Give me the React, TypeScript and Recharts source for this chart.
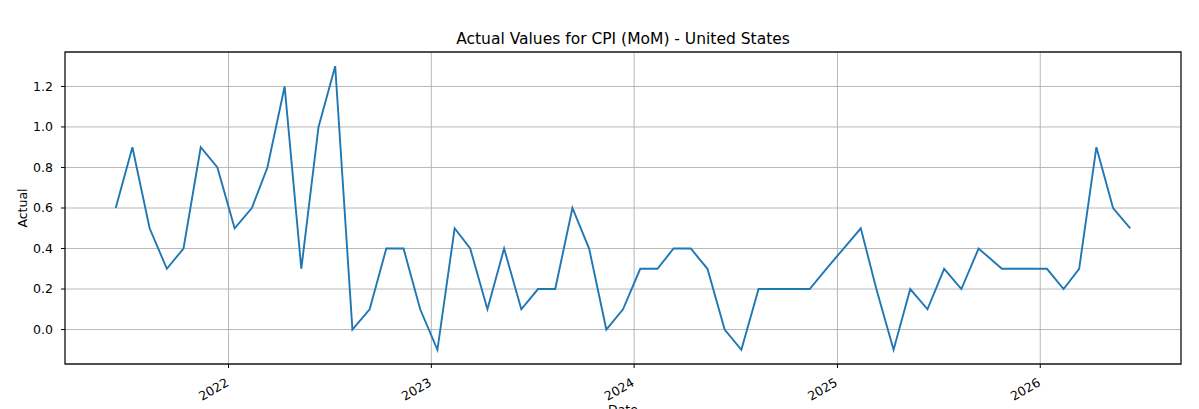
import React from 'react';
import {
  LineChart,
  Line,
  XAxis,
  YAxis,
  CartesianGrid,
  ReferenceArea
} from 'recharts';

// release dates (x axis)
const dates = [
  '2021-06-12', '2021-07-12', '2021-08-12', '2021-09-12', '2021-10-12', '2021-11-12',
  '2021-12-12', '2022-01-12', '2022-02-12', '2022-03-12', '2022-04-12', '2022-05-12',
  '2022-06-12', '2022-07-12', '2022-08-12', '2022-09-12', '2022-10-12', '2022-11-12',
  '2022-12-12', '2023-01-12', '2023-02-12', '2023-03-12', '2023-04-12', '2023-05-12',
  '2023-06-12', '2023-07-12', '2023-08-12', '2023-09-12', '2023-10-12', '2023-11-12',
  '2023-12-12', '2024-01-12', '2024-02-12', '2024-03-12', '2024-04-12', '2024-05-12',
  '2024-06-12', '2024-07-12', '2024-08-12', '2024-09-12', '2024-10-12', '2024-11-12',
  '2024-12-12', '2025-01-12', '2025-02-12', '2025-03-12', '2025-04-12', '2025-05-12',
  '2025-06-12', '2025-07-12', '2025-08-12', '2025-09-12', '2025-10-24', '2025-12-18',
  '2026-01-13', '2026-02-12', '2026-03-12', '2026-04-12', '2026-05-12', '2026-06-12'
];

// CPI MoM actual values (%)
const actual = [
  0.6, 0.9, 0.5, 0.3, 0.4, 0.9, 0.8, 0.5, 0.6, 0.8, 1.2, 0.3,
  1.0, 1.3, 0.0, 0.1, 0.4, 0.4, 0.1, -0.1, 0.5, 0.4, 0.1, 0.4,
  0.1, 0.2, 0.2, 0.6, 0.4, 0.0, 0.1, 0.3, 0.3, 0.4, 0.4, 0.3,
  0.0, -0.1, 0.2, 0.2, 0.2, 0.2, 0.3, 0.4, 0.5, 0.2, -0.1, 0.2,
  0.1, 0.3, 0.2, 0.4, 0.3, 0.3, 0.3, 0.2, 0.3, 0.9, 0.6, 0.5
];

const yearTicks = ['2022', '2023', '2024', '2025', '2026'];
const yTicks = [0, 0.2, 0.4, 0.6, 0.8, 1.0, 1.2];

const data = dates.map((d, i) => ({ t: Date.parse(d + 'T00:00:00Z'), actual: actual[i] }));

// matplotlib-style 5% margins
const tMin = data[0].t;
const tMax = data[data.length - 1].t;
const tPad = (tMax - tMin) * 0.05;
const vMin = Math.min(...actual);
const vMax = Math.max(...actual);
const vPad = (vMax - vMin) * 0.05;
const xDomain = [tMin - tPad, tMax + tPad];
const yDomain = [vMin - vPad, vMax + vPad];

const xTickValues = yearTicks.map((y) => Date.parse(y + '-01-01T00:00:00Z'));

const FONT = 'DejaVu Sans, sans-serif';

const XTick = (props: any) => {
  const { x, y, payload } = props;
  const year = new Date(payload.value).getUTCFullYear();
  return (
    <g transform={`translate(${x + 1},${y + 15})`}>
      <text
        x={0}
        y={0}
        textAnchor="end"
        transform="rotate(-30)"
        fill="#000"
        fontSize={12.5}
        fontFamily={FONT}
      >
        {year}
      </text>
    </g>
  );
};

export default function App() {
  return (
    <div
      style={{
        position: 'absolute',
        left: 0,
        top: 0,
        width: 1199,
        height: 409,
        background: '#fff',
        overflow: 'hidden',
        fontFamily: FONT
      }}
    >
      <LineChart
        width={1199}
        height={409}
        data={data}
        margin={{ top: 52, right: 18, left: 0, bottom: 0 }}
      >
        <CartesianGrid stroke="#b0b0b0" strokeWidth={0.9} />
        <XAxis
          dataKey="t"
          type="number"
          scale="time"
          domain={xDomain}
          ticks={xTickValues}
          height={45}
          tickSize={4}
          tickLine={{ stroke: '#000' }}
          axisLine={false}
          tick={<XTick />}
          interval={0}
        />
        <YAxis
          type="number"
          domain={yDomain}
          ticks={yTicks}
          width={65}
          tickSize={4}
          tickMargin={8}
          tickLine={{ stroke: '#000' }}
          axisLine={false}
          interval={0}
          tickFormatter={(v: number) => v.toFixed(1)}
          tick={{ fill: '#000', fontSize: 12.5, fontFamily: FONT }}
        />
        <Line
          type="linear"
          dataKey="actual"
          stroke="#1f77b4"
          strokeWidth={1.9}
          dot={false}
          isAnimationActive={false}
        />
        {/* axes frame */}
        <ReferenceArea
          x1={xDomain[0]}
          x2={xDomain[1]}
          y1={yDomain[0]}
          y2={yDomain[1]}
          fill="none"
          fillOpacity={0}
          stroke="#222"
          strokeOpacity={1}
          strokeWidth={1.3}
          ifOverflow="visible"
        />
      </LineChart>
      <svg
        width={1199}
        height={409}
        style={{ position: 'absolute', left: 0, top: 0, pointerEvents: 'none' }}
      >
        <text x={623} y={44} textAnchor="middle" fontSize={15.5} fontFamily={FONT} fill="#000">
          Actual Values for CPI (MoM) - United States
        </text>
        <text
          x={26.5}
          y={208}
          textAnchor="middle"
          fontSize={12.5}
          fontFamily={FONT}
          fill="#000"
          transform="rotate(-90 26.5 208)"
        >
          Actual
        </text>
        <text x={623} y={414} textAnchor="middle" fontSize={12.5} fontFamily={FONT} fill="#000">
          Date
        </text>
      </svg>
    </div>
  );
}
